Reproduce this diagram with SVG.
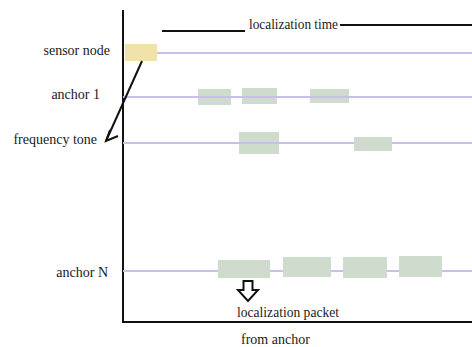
<svg xmlns="http://www.w3.org/2000/svg" width="472" height="347" viewBox="0 0 472 347">
<style>
text{font-family:"Liberation Serif","Times New Roman",serif;font-size:14px;fill:#1a1a1a}
.lane{stroke:#c8c0ea;stroke-width:2.2;fill:none}
.ax{stroke:#111;stroke-width:2;fill:none}
.g{fill:#cfdccd}
.y{fill:#f0e2a8}
</style>
<rect width="472" height="347" fill="#fff"/>
<g id="axes">
<path class="ax" d="M123 10 V322 H472"/>
<path class="ax" d="M162 31 H245"/>
<path class="ax" d="M340 25 H472"/>
<text x="249" y="29" textLength="89" lengthAdjust="spacingAndGlyphs">localization time</text>
</g>
<g id="sensor-node">
<text x="110" y="55" text-anchor="end">sensor node</text>
<path class="lane" d="M157 53 H472"/>
<rect class="y" x="125" y="44" width="32" height="17"/>
</g>
<g id="anchor-1">
<text x="100" y="99" text-anchor="end">anchor 1</text>
<rect class="g" x="198" y="89" width="33" height="16"/>
<rect class="g" x="242" y="88" width="35" height="16"/>
<rect class="g" x="310" y="89" width="39" height="14"/>
<path class="lane" d="M123 97 H472"/>
</g>
<g id="frequency-tone">
<text x="97" y="144" text-anchor="end">frequency tone</text>
<rect class="g" x="239" y="132" width="40" height="22"/>
<path class="lane" d="M123 143 H354 M392 143 H472"/>
<rect class="g" x="354" y="137" width="38" height="14"/>
</g>
<g id="anchor-N">
<text x="108" y="277" text-anchor="end">anchor N</text>
<path class="lane" d="M123 271 H472"/>
<rect class="g" x="218" y="260" width="52" height="18"/>
<rect class="g" x="283" y="257" width="48" height="20"/>
<rect class="g" x="343" y="257" width="44" height="21"/>
<rect class="g" x="399" y="256" width="43" height="21"/>
</g>
<g id="localization-packet">
<path d="M243.5 281 H252.5 V290 H258 L248 301 L238 290 H243.5 Z" fill="#fff" stroke="#111" stroke-width="2" stroke-linejoin="miter"/>
<text x="237" y="317" textLength="102" lengthAdjust="spacingAndGlyphs">localization packet</text>
<text x="241" y="344">from anchor</text>
</g>
<g id="connectors">
<path d="M142 61 L106 141" stroke="#111" stroke-width="2" fill="none"/>
<path d="M110 130 L106 141 L118 136" stroke="#111" stroke-width="2" fill="none"/>
</g>
</svg>
